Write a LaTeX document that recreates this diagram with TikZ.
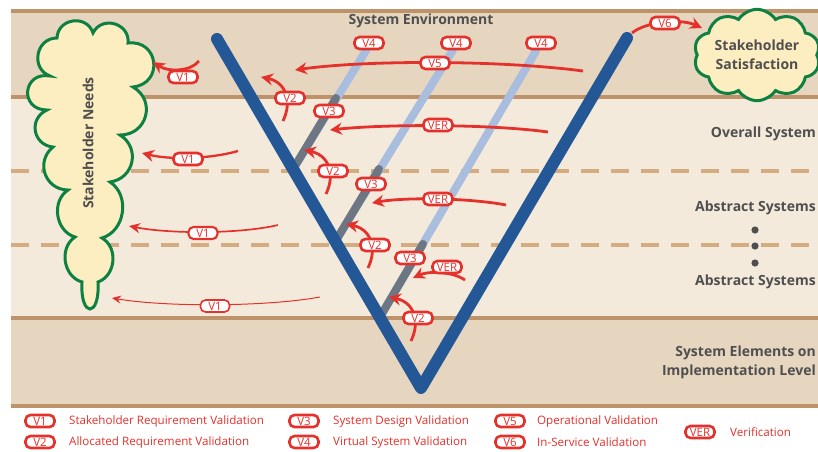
\documentclass[tikz,border=0pt]{standalone}
\usepackage{fontspec}
\setmainfont{Open Sans}
\usetikzlibrary{arrows.meta,shapes.symbols}

\definecolor{bandDark}{HTML}{E6D6C0}
\definecolor{bandLight}{HTML}{F4EADC}
\definecolor{bandLine}{HTML}{BF936A}
\definecolor{bandDash}{HTML}{D3AC82}
\definecolor{vBlue}{HTML}{245795}
\definecolor{lineGray}{HTML}{6C7783}
\definecolor{lineLight}{HTML}{A9BDDE}
\definecolor{valRed}{HTML}{E5312B}
\definecolor{cloudGreen}{HTML}{0D8042}
\definecolor{cloudFill}{HTML}{FCEEC0}
\definecolor{textGray}{HTML}{4F4F4F}

\begin{document}
\begin{tikzpicture}[
  x=1pt, y=-1pt,
  layer/.style={font=\fontsize{14}{19}\selectfont\bfseries, text=textGray, align=right, anchor=east, inner sep=0pt},
  badge/.style={draw=valRed, line width=2.6pt, fill=white, rounded corners=5pt, text=valRed,
    font=\fontsize{11.5}{12}\selectfont, inner xsep=2.5pt, inner ysep=1.9pt,
    text height=8.2pt, text depth=0pt, minimum width=29pt},
  legtxt/.style={text=valRed, anchor=west, inner sep=0pt, font=\fontsize{11.6}{13}\selectfont},
  val/.style={valRed, line width=2.8pt, -{Stealth[length=12pt,width=12pt,inset=4pt]}},
  band/.style={bandLine, line width=3.2pt},
  dashband/.style={bandDash, line width=3.6pt, dash pattern=on 18pt off 12pt},
  vleg/.style={vBlue, line width=12pt, line cap=round, line join=round},
  levelline/.style={line width=8pt, line cap=round},
  cloudline/.style={draw=cloudGreen, line width=3pt, fill=cloudFill}
]
  \useasboundingbox (0,0) rectangle (818,451);
  \fill[white] (0,0) rectangle (818,451);

  % levels
  \fill[bandDark] (11,11) rectangle (818,97);
  \fill[bandLight] (11,97) rectangle (818,318);
  \fill[bandDark] (11,318) rectangle (818,406);
  \draw[band] (11,11) -- (818,11);
  \draw[band] (11,97) -- (818,97);
  \draw[dashband] (11,171) -- (818,171);
  \draw[dashband] (11,245) -- (818,245);
  \draw[band] (11,318) -- (818,318);
  \draw[band] (11,406) -- (818,406);

  % decomposition lines
  \coordinate (d1s) at (292,171); \coordinate (d1g) at (336,98);  \coordinate (d1t) at (367,49);
  \coordinate (d2s) at (335,242); \coordinate (d2g) at (379,169); \coordinate (d2t) at (453,50);
  \coordinate (d3s) at (380,317); \coordinate (d3g) at (423,244); \coordinate (d3t) at (536,51);
  \draw[levelline, lineLight] (d1s) -- (d1t);
  \draw[levelline, lineLight] (d2s) -- (d2t);
  \draw[levelline, lineLight] (d3s) -- (d3t);
  \draw[levelline, lineGray] (d1s) -- (d1g);
  \draw[levelline, lineGray] (d2s) -- (d2g);
  \draw[levelline, lineGray] (d3s) -- (d3g);

  % the V
  \coordinate (vl) at (217,39);
  \coordinate (vb) at (421,388);
  \coordinate (vr) at (627,38);
  \draw[vleg] (vl) -- (vb) -- (vr);

  % stakeholder needs cloud
  \draw[cloudline] (57,38) to[bend left=80, looseness=1.4] (93,33)
    to[bend left=80, looseness=1.4] (128,43)
    to[bend left=90, looseness=1.8] (133,87)
    to[bend left=75, looseness=1.4] (120,135)
    to[bend left=70, looseness=1.3] (110,182)
    to[bend left=65, looseness=1.1] (102,238)
    to[bend left=65, looseness=1.1] (98,282)
    .. controls (100,318) and (80,318) .. (82,282)
    to[bend left=65, looseness=1.1] (75,237)
    to[bend left=65, looseness=1.1] (68,190)
    to[bend left=70, looseness=1.3] (53,147)
    to[bend left=75, looseness=1.4] (47,110)
    to[bend left=95, looseness=2.1] (50,76)
    to[bend left=80, looseness=1.4] (57,38) -- cycle;
  \node[rotate=90, font=\fontsize{14}{16}\selectfont\bfseries, text=textGray] (needs) at (88,143) {Stakeholder Needs};

  % stakeholder satisfaction cloud
  \node[cloud, cloudline, cloud puffs=10, cloud puff arc=115, aspect=1.6,
    minimum width=112pt, minimum height=68pt, inner sep=0pt, align=center,
    font=\fontsize{14}{19}\selectfont\bfseries, text=textGray] (satisf) at (757,55) {Stakeholder\\Satisfaction};

  % level names
  \node[font=\fontsize{14}{16}\selectfont\bfseries, text=textGray] (env) at (421,21) {System Environment};
  \node[layer] (overall) at (816,134) {Overall System};
  \node[layer] (abs1) at (816,208) {Abstract Systems};
  \node[layer] (abs2) at (816,282) {Abstract Systems};
  \node[layer] (elements) at (816,362) {System Elements on\\Implementation Level};
  \fill[textGray] (755,230) circle (3.6);
  \fill[textGray] (755,246) circle (3.6);
  \fill[textGray] (755,263) circle (3.6);

  % validation and verification arrows
  \coordinate (v5s) at (583,71);  \coordinate (v5t) at (295,70);
  \coordinate (ver1s) at (548,132); \coordinate (ver1t) at (330,130);
  \coordinate (ver2s) at (506,205); \coordinate (ver2t) at (372,203);
  \coordinate (ver3s) at (465,280); \coordinate (ver3t) at (413,278);
  \coordinate (v6s) at (632,33);  \coordinate (v6t) at (702,28);
  \draw[val] (v5s) .. controls (500,60) and (365,60) .. (v5t);
  \draw[val] (ver1s) .. controls (490,124) and (385,124) .. (ver1t);
  \draw[val] (ver2s) .. controls (470,198) and (405,197) .. (ver2t);
  \draw[val] (ver3s) .. controls (452,271) and (428,271) .. (ver3t);
  \draw[val] (v6s) .. controls (645,22) and (680,18) .. (v6t);

  \coordinate (v2as) at (283,121); \coordinate (v2at) at (261,77);
  \coordinate (v2bs) at (326,194); \coordinate (v2bt) at (304,150);
  \coordinate (v2cs) at (368,268); \coordinate (v2ct) at (346,224);
  \coordinate (v2ds) at (411,341); \coordinate (v2dt) at (389,297);
  \draw[val] (v2as) .. controls +(10,-21) and +(24,5) .. (v2at);
  \draw[val] (v2bs) .. controls +(10,-21) and +(24,5) .. (v2bt);
  \draw[val] (v2cs) .. controls +(10,-21) and +(24,5) .. (v2ct);
  \draw[val] (v2ds) .. controls +(10,-21) and +(24,5) .. (v2dt);

  \coordinate (v1as) at (199,61);  \coordinate (v1at) at (153,62);
  \coordinate (v1bs) at (238,151); \coordinate (v1bt) at (142,153);
  \coordinate (v1cs) at (278,225); \coordinate (v1ct) at (129,226);
  \coordinate (v1ds) at (320,297); \coordinate (v1dt) at (112,298);
  \draw[val] (v1as) .. controls (190,72) and (168,72) .. (v1at);
  \draw[val, line width=2.3pt] (v1bs) .. controls (210,159) and (170,160) .. (v1bt);
  \draw[val, line width=1.7pt, -{Stealth[length=11pt,width=10pt,inset=3.5pt]}] (v1cs) .. controls (240,234) and (170,234) .. (v1ct);
  \draw[val, line width=1pt, -{Stealth[length=9pt,width=8pt,inset=3pt]}] (v1ds) .. controls (265,307) and (165,307) .. (v1dt);

  % badges
  \node[badge] (v4a) at (369,43) {V4};
  \node[badge] (v4b) at (456,43) {V4};
  \node[badge] (v4c) at (541,43) {V4};
  \node[badge] (v5) at (435,63) {V5};
  \node[badge] (v6) at (665,23) {V6};
  \node[badge] (vera) at (438,125) {VER};
  \node[badge] (verb) at (438,199) {VER};
  \node[badge] (verc) at (447,267) {VER};
  \node[badge] (v3a) at (329,111) {V3};
  \node[badge] (v3b) at (371,184) {V3};
  \node[badge] (v3c) at (410,258) {V3};
  \node[badge] (v2a) at (290,98) {V2};
  \node[badge] (v2b) at (333,171) {V2};
  \node[badge] (v2c) at (375,245) {V2};
  \node[badge] (v2d) at (418,318) {V2};
  \node[badge] (v1a) at (183,77) {V1};
  \node[badge] (v1b) at (188,159) {V1};
  \node[badge, line width=2.1pt] (v1c) at (203,233) {V1};
  \node[badge, line width=1.6pt] (v1d) at (215,306) {V1};

  % legend
  \node[badge] (k1) at (40,421) {V1};
  \node[badge] (k2) at (40,442) {V2};
  \node[badge] (k3) at (304,421) {V3};
  \node[badge] (k4) at (304,442) {V4};
  \node[badge] (k5) at (510,421) {V5};
  \node[badge] (k6) at (510,442) {V6};
  \node[badge] (kver) at (700,432) {VER};
  \node[legtxt] (t1) at (69,421) {Stakeholder Requirement Validation};
  \node[legtxt] (t2) at (69,442) {Allocated Requirement Validation};
  \node[legtxt] (t3) at (333,421) {System Design Validation};
  \node[legtxt] (t4) at (333,442) {Virtual System Validation};
  \node[legtxt] (t5) at (537,421) {Operational Validation};
  \node[legtxt] (t6) at (537,442) {In-Service Validation};
  \node[legtxt] (tver) at (730,432) {Verification};
\end{tikzpicture}
\end{document}
